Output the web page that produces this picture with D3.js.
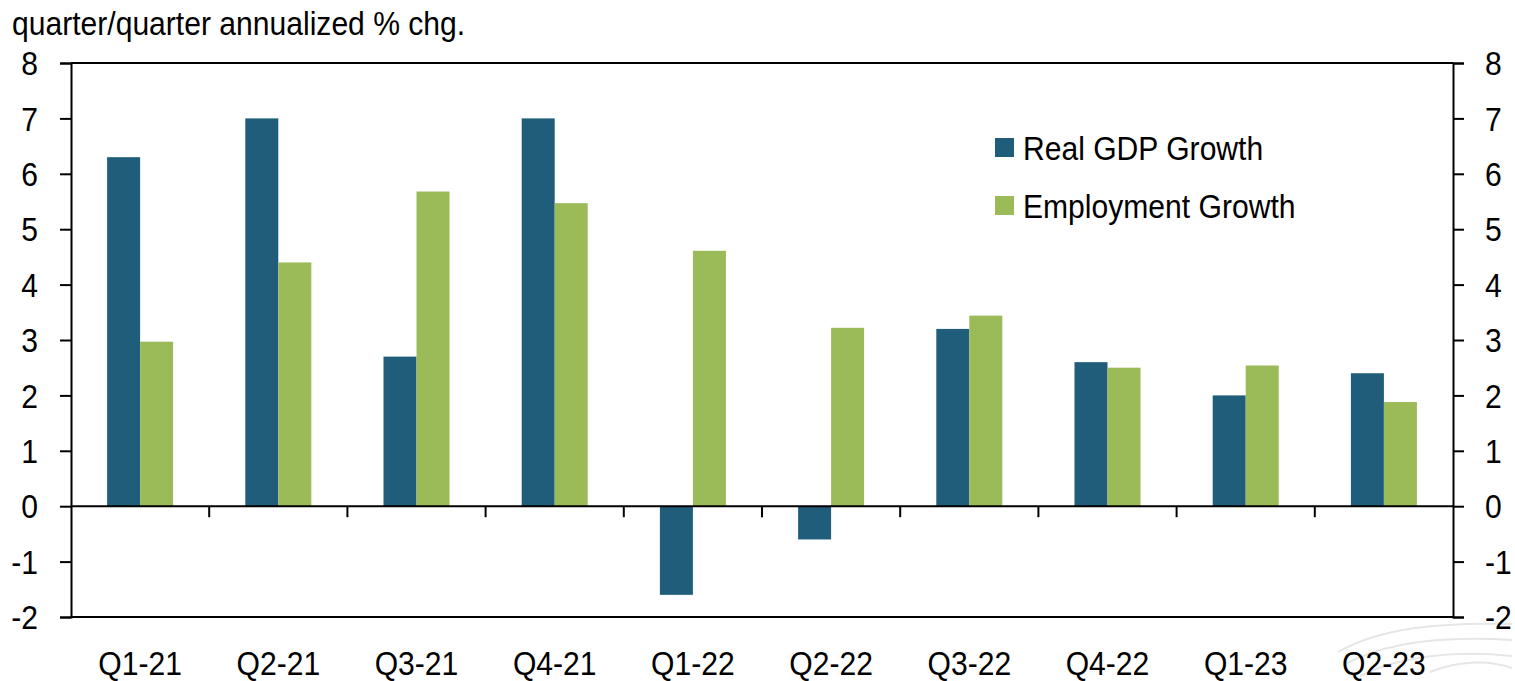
<!DOCTYPE html>
<html>
<head>
<meta charset="utf-8">
<script src="https://cdn.jsdelivr.net/npm/d3@7"></script>
<style>
  body { margin: 0; background: #fff; }
  text { font-family: "Liberation Sans", Arial, sans-serif; fill: #000; }
</style>
</head>
<body>
<svg width="1515" height="681"></svg>
<script>
// Data
const quarters = ["Q1-21", "Q2-21", "Q3-21", "Q4-21", "Q1-22", "Q2-22", "Q3-22", "Q4-22", "Q1-23", "Q2-23"];
const gdpGrowth = [6.3, 7.0, 2.7, 7.0, -1.6, -0.6, 3.2, 2.6, 2.0, 2.4];
const employmentGrowth = [2.97, 4.4, 5.68, 5.47, 4.61, 3.22, 3.44, 2.5, 2.54, 1.88];
const yTicks = [-2, -1, 0, 1, 2, 3, 4, 5, 6, 7, 8];
const seriesNames = ["Real GDP Growth", "Employment Growth"];
const colors = ["#205d7a", "#9bbb59"];

const width = 1515, height = 681;
const margin = { top: 63, right: 62, bottom: 64, left: 71 };
const fontSize = 34;
const squeeze = 0.885; // the original font is a bit condensed

const svg = d3.select("svg");

// condensed text helper
function label(parent, x, y, txt, anchor, baseline) {
    return parent.append("text")
        .attr("transform", `translate(${x},${y}) scale(${squeeze},1)`)
        .attr("text-anchor", anchor || "start")
        .attr("dy", baseline === "middle" ? "0.36em" : null)
        .attr("font-size", fontSize)
        .text(txt);
}

const x = d3.scaleBand()
    .domain(quarters)
    .range([margin.left, width - margin.right])
    .paddingInner(0)
    .paddingOuter(0);

const barW = 33;
const x1 = d3.scaleBand()
    .domain(seriesNames)
    .range([x.bandwidth() / 2 - barW, x.bandwidth() / 2 + barW]);

const y = d3.scaleLinear()
    .domain([-2, 8])
    .range([height - margin.bottom, margin.top]);

const rows = quarters.map((q, i) => ({ q, vals: [gdpGrowth[i], employmentGrowth[i]] }));

// faint watermark swoosh in the bottom right corner
const wm = svg.append("g").attr("fill", "none").attr("stroke", "#e6e6e6").attr("stroke-width", 2);
["M1338,652 C1380,628 1440,622 1512,624",
 "M1345,664 C1390,640 1450,636 1512,640",
 "M1360,676 C1400,656 1455,650 1512,656",
 "M1430,672 C1460,660 1490,660 1512,668"].forEach(p => wm.append("path").attr("d", p));

// bars
const groups = svg.append("g").selectAll("g")
    .data(rows)
    .enter().append("g")
    .attr("transform", d => `translate(${x(d.q)},0)`);

groups.selectAll("rect")
    .data(d => d.vals.map((v, k) => ({ v, k })))
    .enter().append("rect")
    .attr("x", d => x1(seriesNames[d.k]))
    .attr("width", x1.bandwidth())
    .attr("y", d => y(Math.max(0, d.v)))
    .attr("height", d => Math.abs(y(d.v) - y(0)))
    .attr("fill", d => colors[d.k]);

// frame: top and bottom lines
svg.append("line")
    .attr("x1", margin.left).attr("x2", width - margin.right)
    .attr("y1", y(8)).attr("y2", y(8))
    .attr("stroke", "#000").attr("stroke-width", 2);
svg.append("line")
    .attr("x1", margin.left).attr("x2", width - margin.right)
    .attr("y1", y(-2)).attr("y2", y(-2))
    .attr("stroke", "#000").attr("stroke-width", 2);

// left / right axes (lines and ticks only, labels drawn below)
const yAxisL = d3.axisLeft(y).tickValues(yTicks).tickSize(11).tickFormat("");
const yAxisR = d3.axisRight(y).tickValues(yTicks).tickSize(11).tickFormat("");

const gl = svg.append("g")
    .attr("transform", `translate(${margin.left},0)`)
    .call(yAxisL);
const gr = svg.append("g")
    .attr("transform", `translate(${width - margin.right},0)`)
    .call(yAxisR);

[gl, gr].forEach(g => {
    g.select(".domain").attr("stroke", "#000").attr("stroke-width", 2);
    g.selectAll(".tick line").attr("stroke", "#000").attr("stroke-width", 2);
});

const tickLabels = svg.append("g");
yTicks.forEach(t => {
    label(tickLabels, 38, y(t), String(t), "end", "middle");
    label(tickLabels, 1485, y(t), String(t), "start", "middle");
});

// zero line with category ticks
svg.append("line")
    .attr("x1", margin.left).attr("x2", width - margin.right)
    .attr("y1", y(0)).attr("y2", y(0))
    .attr("stroke", "#000").attr("stroke-width", 2);

svg.append("g").selectAll("line")
    .data(quarters.slice(1))
    .enter().append("line")
    .attr("x1", d => x(d)).attr("x2", d => x(d))
    .attr("y1", y(0)).attr("y2", y(0) + 11)
    .attr("stroke", "#000").attr("stroke-width", 2);

// category labels
const catLabels = svg.append("g");
quarters.forEach(q => label(catLabels, x(q) + x.bandwidth() / 2, 675, q, "middle"));

// axis title
label(svg, 12, 35, "quarter/quarter annualized % chg.", "start");

// legend
const legend = svg.append("g");
seriesNames.forEach((name, i) => {
    legend.append("rect")
        .attr("x", 995)
        .attr("y", 138 + i * 58)
        .attr("width", 19)
        .attr("height", 19)
        .attr("fill", colors[i]);
    label(legend, 1023, 160 + i * 58, name, "start");
});
</script>
</body>
</html>
